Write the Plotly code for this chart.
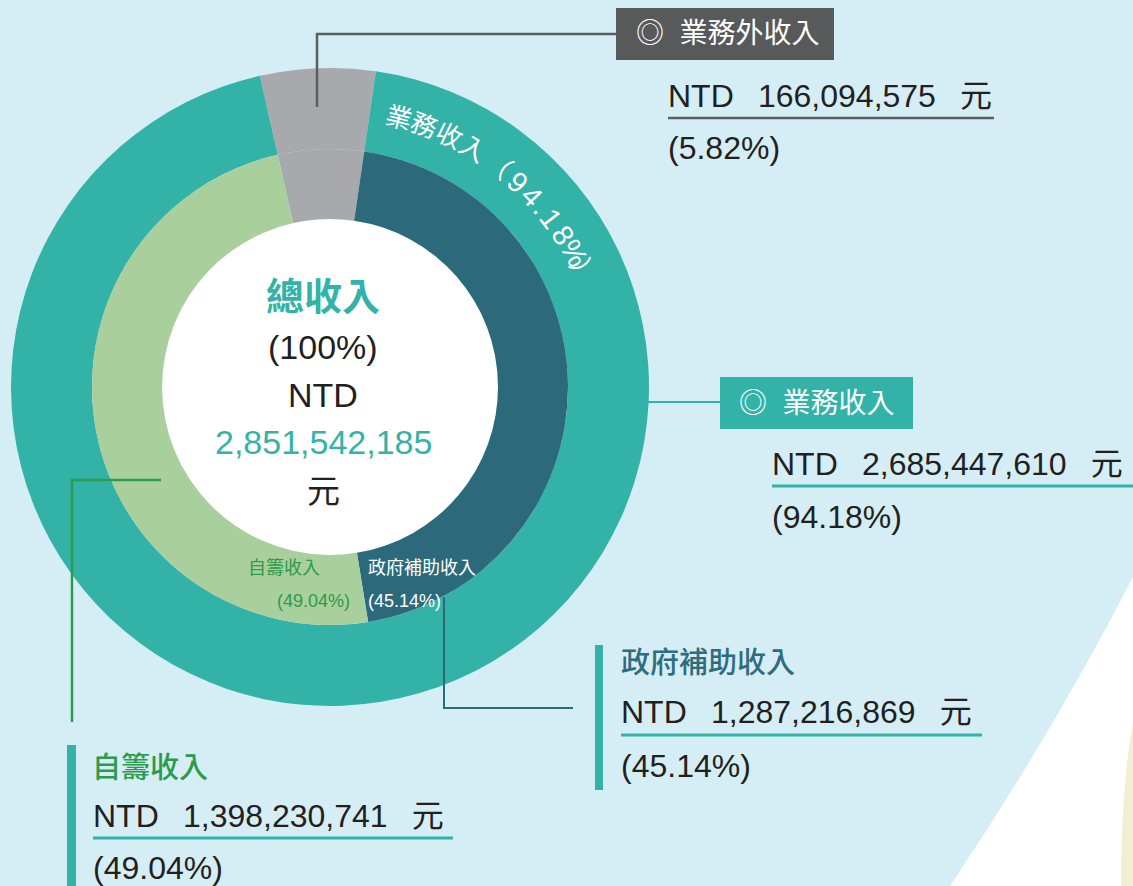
import math
import plotly.graph_objects as go

W, H = 1133, 886

# ---- data (NTD) ----
total_income = 2_851_542_185
outer_labels = ["業務外收入", "業務收入"]
outer_values = [166_094_575, 2_685_447_610]
outer_pct = ["5.82%", "94.18%"]

inner_labels = ["業務外收入", "政府補助收入", "自籌收入"]
inner_values = [166_094_575, 1_287_216_869, 1_398_230_741]
inner_pct = ["5.82%", "45.14%", "49.04%"]

# ---- style ----
TEAL = "#33b3a8"
GRAY = "#a7a9ac"
DARKBLUE = "#2c6a7b"
LIGHTGREEN = "#a9cf9c"
SKY = "#d5eef5"
BOXGRAY = "#58595b"
INK = "#231f20"
GREEN = "#2b9b4c"
TITLEBLUE = "#2e6c7e"
BEIGE = "#f3edd3"
FONT = "Liberation Sans, Noto Sans CJK TC, sans-serif"
SEP = "\u00a0\u00a0\u2009"

CX, CY = 330, 387          # ring centre (px)
R_OUT, R_MID, R_HOLE = 319, 238, 168
ROTATION = -12.7           # start of the first slice, degrees clockwise from 12 o'clock


def fx(x):
    return x / W


def fy(y):
    return 1 - y / H


def px_path(*segs):
    parts = []
    for cmd, *pts in segs:
        coords = [f"{fx(pts[i]):.5f},{fy(pts[i + 1]):.5f}" for i in range(0, len(pts), 2)]
        parts.append((cmd + " " + " ".join(coords)).strip())
    return " ".join(parts)


def domain(r):
    return dict(x=[fx(CX - r), fx(CX + r)], y=[fy(CY + r), fy(CY - r)])


fig = go.Figure()

fig.add_trace(go.Pie(
    labels=outer_labels, values=outer_values, sort=False, direction="clockwise",
    rotation=ROTATION, hole=R_MID / R_OUT, domain=domain(R_OUT),
    marker=dict(colors=[GRAY, TEAL], line=dict(width=0)),
    textinfo="none", hoverinfo="skip", showlegend=False,
))
fig.add_trace(go.Pie(
    labels=inner_labels, values=inner_values, sort=False, direction="clockwise",
    rotation=ROTATION, hole=R_HOLE / R_MID, domain=domain(R_MID),
    marker=dict(colors=[GRAY, DARKBLUE, LIGHTGREEN], line=dict(width=0)),
    textinfo="none", hoverinfo="skip", showlegend=False,
))

shapes = []
# backdrop: pale blue field, beige sliver, white centre disc
shapes.append(dict(type="path", xref="paper", yref="paper", layer="below",
                   path=px_path(("M", 0, 0), ("L", 1133, 0), ("L", 1133, 577),
                                ("Q", 1052, 734, 950, 886), ("L", 0, 886), ("Z",)),
                   fillcolor=SKY, line=dict(width=0)))
shapes.append(dict(type="path", xref="paper", yref="paper", layer="below",
                   path=px_path(("M", 1133, 722), ("Q", 1121, 790, 1121, 886), ("L", 1133, 886), ("Z",)),
                   fillcolor=BEIGE, line=dict(width=0)))
shapes.append(dict(type="circle", xref="paper", yref="paper", layer="below",
                   x0=fx(CX - R_HOLE), x1=fx(CX + R_HOLE), y0=fy(CY + R_HOLE), y1=fy(CY - R_HOLE),
                   fillcolor="white", line=dict(width=0)))


def line_path(color, width, *segs):
    shapes.append(dict(type="path", xref="paper", yref="paper", layer="above",
                       path=px_path(*segs), line=dict(color=color, width=width)))


def rect(x0, y0, x1, y1, color):
    shapes.append(dict(type="rect", xref="paper", yref="paper", layer="above",
                       x0=fx(x0), x1=fx(x1), y0=fy(y1), y1=fy(y0),
                       fillcolor=color, line=dict(width=0)))


# leader lines
line_path("#5d5e60", 2.5, ("M", 616, 34), ("L", 317, 34), ("L", 317, 107))
line_path(TEAL, 2, ("M", 648, 402), ("L", 720, 402))
line_path(DARKBLUE, 2, ("M", 444, 597), ("L", 444, 708), ("L", 573, 708))
line_path(GREEN, 2.5, ("M", 161, 480), ("L", 72, 480), ("L", 72, 722))

# label boxes and side bars
rect(616, 8, 834, 60, BOXGRAY)
rect(720, 377, 913, 429, TEAL)
rect(595, 645, 603, 790, TEAL)
rect(67, 745, 76, 886, TEAL)

# underlines
line_path("#5d5e60", 2.5, ("M", 668, 118), ("L", 994, 118))
line_path(TEAL, 3, ("M", 772, 486), ("L", 1133, 486))
line_path(TEAL, 3, ("M", 621, 735), ("L", 982, 735))
line_path(TEAL, 3, ("M", 93, 838), ("L", 453, 838))

annotations = []


def text(x, y, s, size, color, anchor="left", weight="normal", angle=0):
    annotations.append(dict(
        x=fx(x), y=fy(y), xref="paper", yref="paper", text=s, showarrow=False,
        xanchor=anchor, yanchor="middle", textangle=angle,
        font=dict(family=FONT, size=size, color=color, weight=weight),
    ))


def amount(v):
    return f"NTD{SEP}{v:,}{SEP}元"


# centre summary
text(323, 297, "總收入", 38, TEAL, "center", "bold")
text(323, 347, "(100%)", 34, INK, "center")
text(323, 395, "NTD", 34, INK, "center")
text(323, 442, f"{total_income:,}", 34, TEAL, "center")
text(323, 491, "元", 33, INK, "center")

# curved label along the outer ring
ring_label = f"{outer_labels[1]}（{outer_pct[1]}）"
char_w = {"（": 32, "）": 20, ".": 10, "%": 23}
R_TEXT, THETA0 = 278, 14.3
widths = [char_w.get(c, 20 if c.isdigit() else 27) for c in ring_label]
pos = 0.0
for i, ch in enumerate(ring_label):
    if i > 0:
        pos += (widths[i - 1] + widths[i]) / 2
    th = THETA0 + math.degrees(pos / R_TEXT)
    t = math.radians(th)
    size = 29 if (ch.isdigit() or ch in ".%") else 26
    text(CX + R_TEXT * math.sin(t), CY - R_TEXT * math.cos(t), ch, size, "white", "center",
         angle=th)

# inner ring labels
text(284, 568, inner_labels[2], 18, GREEN, "center")
text(352, 601, f"({inner_pct[2]})", 18, GREEN, "right")
text(422, 568, inner_labels[1], 18, "white", "center")
text(366, 601, f"({inner_pct[1]})", 18, "white", "left")

# 業務外收入 callout
text(634, 34, f"◎\u00a0\u00a0{outer_labels[0]}", 28, "white")
text(666, 96, amount(outer_values[0]), 32, INK)
text(666, 148, f"({outer_pct[0]})", 32, INK)

# 業務收入 callout
text(737, 403, f"◎\u00a0\u00a0{outer_labels[1]}", 28, "white")
text(770, 464, amount(outer_values[1]), 32, INK)
text(770, 517, f"({outer_pct[1]})", 32, INK)

# 政府補助收入 callout
text(619, 663, inner_labels[1], 29, TITLEBLUE, weight=500)
text(619, 712, amount(inner_values[1]), 32, INK)
text(619, 766, f"({inner_pct[1]})", 32, INK)

# 自籌收入 callout
text(90, 768, inner_labels[2], 29, GREEN, weight=500)
text(91, 816, amount(inner_values[2]), 32, INK)
text(91, 868, f"({inner_pct[2]})", 32, INK)

fig.update_layout(
    width=W, height=H, autosize=False,
    margin=dict(l=0, r=0, t=0, b=0, pad=0),
    paper_bgcolor="white", plot_bgcolor="white",
    shapes=shapes, annotations=annotations,
    showlegend=False,
)

fig.write_html("out.html")
